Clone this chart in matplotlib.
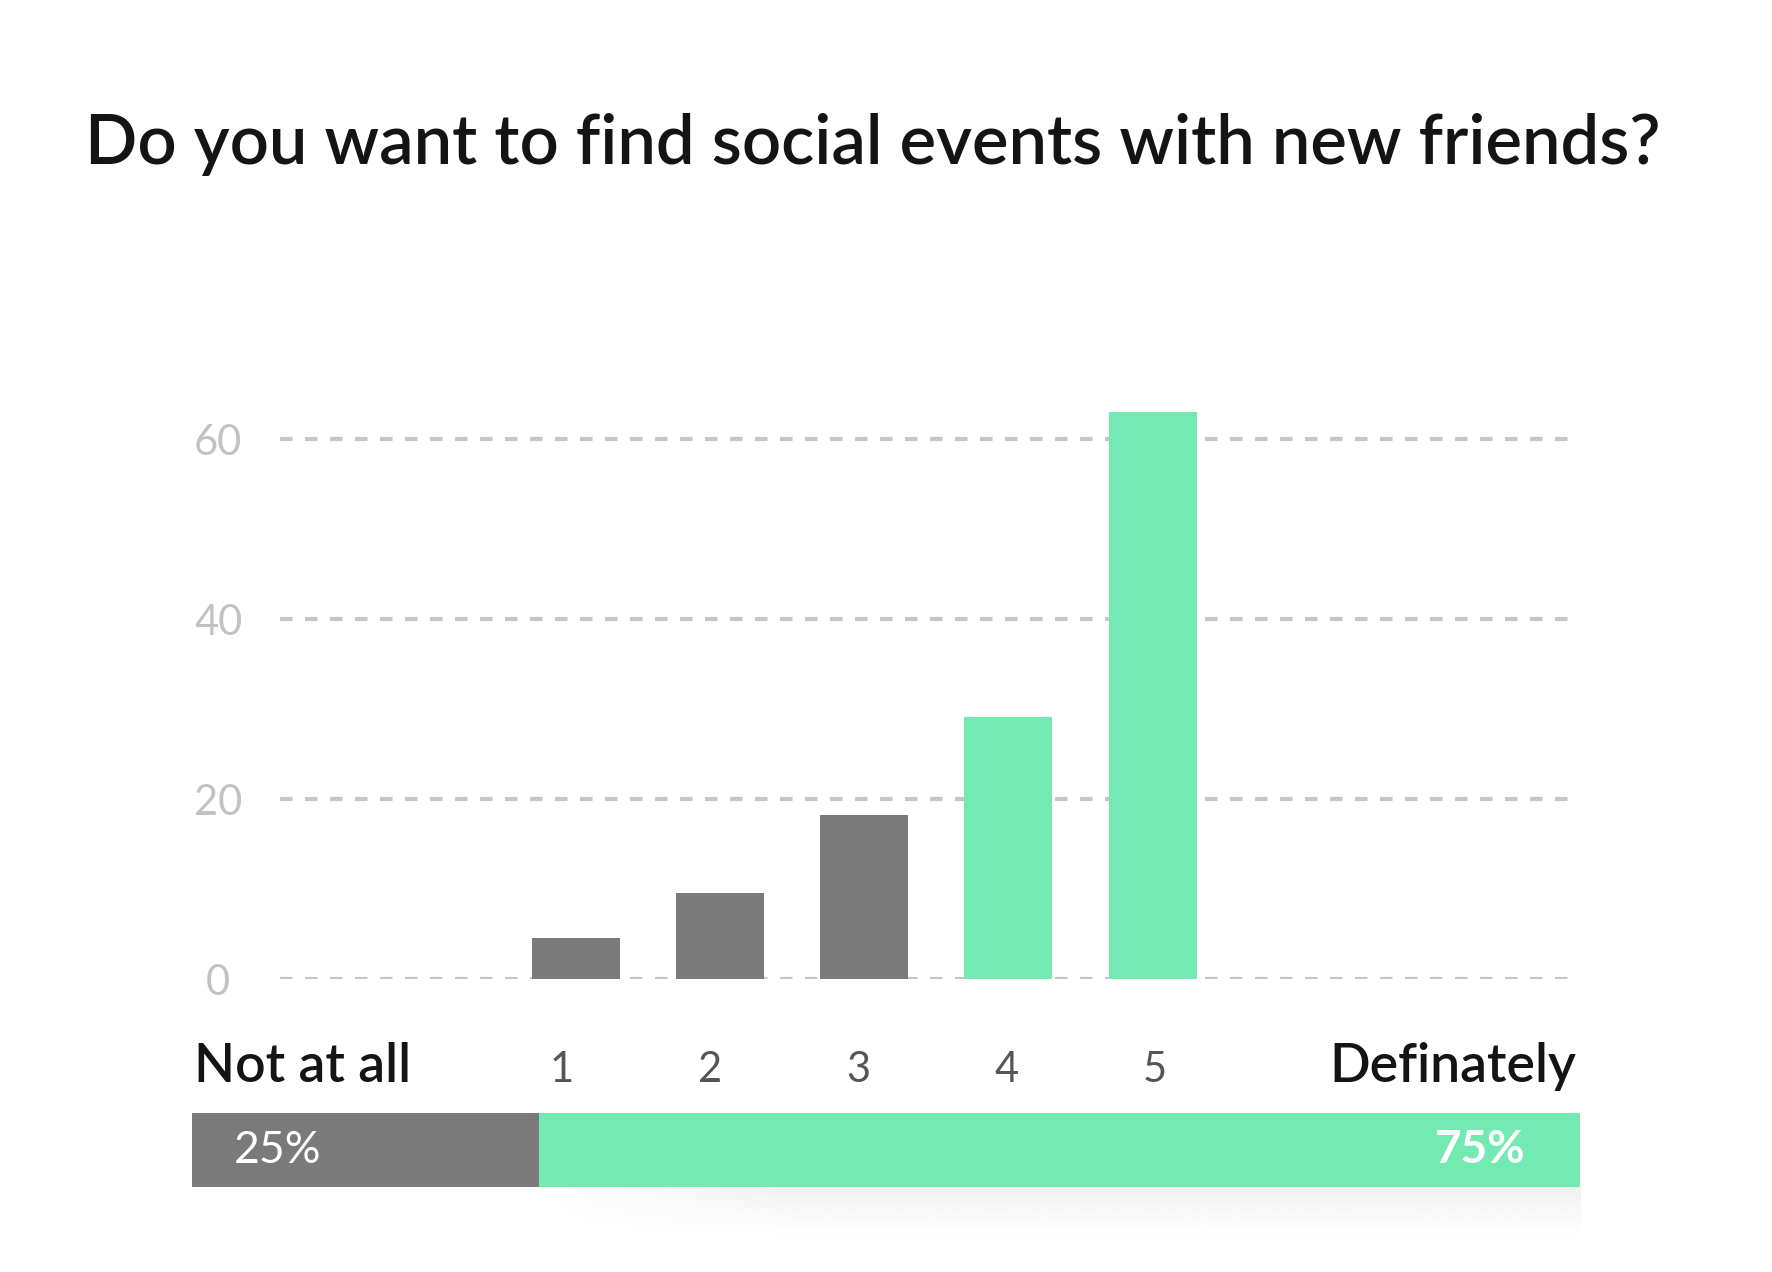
import numpy as np
import matplotlib
matplotlib.use("Agg")
import matplotlib.pyplot as plt

# survey answers, 1 = not at all ... 5 = definately
answers = [1, 2, 3, 4, 5]
counts = [4.6, 9.6, 18.3, 29.2, 63.1]
y_ticks = [0, 20, 40, 60]
shares = [25, 75]
share_labels = ["25%", "75%"]

title = "Do you want to find social events with new friends?"
low_label = "Not at all"
high_label = "Definately"

GRAY = "#7a7a7a"
GREEN = "#73eab1"
GRID = "#c6c6c6"
DARK = "#141414"

plt.rcParams["font.family"] = ["Lato", "DejaVu Sans"]

fig = plt.figure(figsize=(17.72, 12.72), dpi=100)
fig.patch.set_facecolor("white")

# main bar chart
ax = fig.add_axes([0.1582, 0.230, 0.8897 - 0.1582, 0.4953])
colors = [GRAY if a <= 3 else GREEN for a in answers]
ax.bar(answers, counts, width=0.61, color=colors, zorder=3)
ax.set_xlim(-1.049, 7.94)
ax.set_ylim(0, 70)
ax.set_yticks(y_ticks)
ax.set_yticklabels([str(t) for t in y_ticks])
for y in y_ticks:
    ax.axhline(y, color=GRID, lw=3.0, dashes=(3, 3), zorder=1)
for s in ax.spines.values():
    s.set_visible(False)
ax.set_xticks([])
ax.tick_params(axis="y", length=0, pad=44.7, labelsize=30, labelcolor="#c2c2c2")
for lbl in ax.get_yticklabels():
    lbl.set_horizontalalignment("center")

# answer numbers under the bars (slightly wider spacing than the bars)
for i, a in enumerate(answers):
    x = (497 + i * 131.2) / 1568
    fig.text(x, 0.1495, str(a), ha="center", va="baseline",
             fontsize=30, color="#555555")

fig.text(0.0478, 0.871, title, ha="left", va="baseline", fontsize=49.5,
         fontweight="semibold", color=DARK)
fig.text(0.1097, 0.1492, low_label, ha="left", va="baseline", fontsize=38.5,
         fontweight="semibold", color=DARK)
fig.text(0.8897, 0.1492, high_label, ha="right", va="baseline", fontsize=38.5,
         fontweight="semibold", color=DARK)

# soft shadow under the green share bar
sh = fig.add_axes([0.30, 0.022, 0.8916 - 0.30, 0.0446])
grad_y = np.linspace(1, 0, 60) ** 1.5
grad_x = np.clip(np.linspace(0, 4, 200), 0, 1)
shade = 1 - 0.06 * np.outer(grad_y, grad_x)
sh.imshow(shade, cmap="gray", vmin=0, vmax=1, aspect="auto",
          extent=[0, 1, 0, 1], interpolation="bilinear")
sh.axis("off")

# share bar
bx = fig.add_axes([0.1084, 0.0666, 0.8916 - 0.1084, 0.0586])
bx.barh(0, shares[0], left=0, height=1, color=GRAY)
bx.barh(0, shares[1], left=shares[0], height=1, color=GREEN)
bx.set_xlim(0, sum(shares))
bx.set_ylim(-0.5, 0.5)
bx.axis("off")
fig.text(0.132, 0.0853, share_labels[0], ha="left", va="baseline",
         fontsize=32, color="white")
fig.text(0.861, 0.0853, share_labels[1], ha="right", va="baseline",
         fontsize=33, fontweight="bold", color="white")

fig.savefig("out.png", dpi=100, facecolor="white")
